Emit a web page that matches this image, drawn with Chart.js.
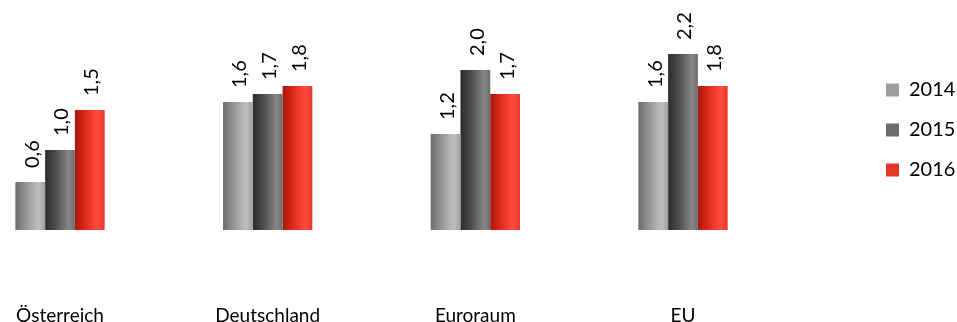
<!DOCTYPE html>
<html>
<head>
<meta charset="utf-8">
<script src="https://cdn.jsdelivr.net/npm/chart.js@4/dist/chart.umd.min.js"></script>
<style>
  html, body { margin: 0; padding: 0; background: #fff; }
  canvas { display: block; }
</style>
</head>
<body>
<canvas id="inflationChart" width="957" height="322"></canvas>
<script>
const categories = ['Österreich', 'Deutschland', 'Euroraum', 'EU']
const years = ['2014', '2015', '2016']
const values2014 = [0.6, 1.6, 1.2, 1.6]
const values2015 = [1.0, 1.7, 2.0, 2.2]
const values2016 = [1.5, 1.8, 1.7, 1.8]

const FONT = 'Lato, "Open Sans", sans-serif'

// flat colour for the legend, gradient stops for the bars (left -> right)
const styles = [
  { flat: '#a5a5a5', stops: ['#6c6c6c', '#8e8e8e', '#b4b4b4', '#bdbdbd', '#9e9e9e'] },
  { flat: '#6f6f6f', stops: ['#2c2c2c', '#464646', '#727272', '#878787', '#6c6c6c'] },
  { flat: '#ee3a2b', stops: ['#a8170e', '#d4271a', '#fb4232', '#ff4a3a', '#e3372a'] }
]

function barFill(style) {
  return function(context) {
    const el = context.element
    if (!el || el.x == null || !el.width) return style.flat
    const left = el.x - el.width / 2
    const g = context.chart.ctx.createLinearGradient(left, 0, left + el.width, 0)
    const pos = [0, 0.3, 0.65, 0.8, 1]
    style.stops.forEach((c, i) => g.addColorStop(pos[i], c))
    return g
  }
}

// rotated value labels above each bar, German decimal comma
const valueLabels = {
  id: 'valueLabels',
  afterDatasetsDraw(chart) {
    const ctx = chart.ctx
    ctx.save()
    ctx.font = '20px ' + FONT
    ctx.fillStyle = '#000'
    ctx.textAlign = 'left'
    ctx.textBaseline = 'middle'
    chart.data.datasets.forEach((ds, di) => {
      chart.getDatasetMeta(di).data.forEach((bar, i) => {
        const text = ds.data[i].toFixed(1).replace('.', ',')
        ctx.save()
        ctx.translate(bar.x + 2, bar.y - 14)
        ctx.rotate(-Math.PI / 2)
        ctx.fillText(text, 0, 0)
        ctx.restore()
      })
    })
    ctx.restore()
  }
}

const seriesData = [values2014, values2015, values2016]

const chart = new Chart(document.getElementById('inflationChart').getContext('2d'), {
  type: 'bar',
  data: {
    labels: categories,
    datasets: years.map((year, i) => ({
      label: year,
      data: seriesData[i],
      backgroundColor: barFill(styles[i]),
      borderWidth: 0,
      clip: false,
      categoryPercentage: 0.43,
      barPercentage: 1
    }))
  },
  options: {
    responsive: false,
    animation: false,
    layout: {
      padding: { left: 60, top: 30, right: 0, bottom: 0 }
    },
    scales: {
      x: {
        offset: false,
        grid: { display: false },
        border: { display: false },
        ticks: {
          color: '#000',
          padding: 66,
          maxRotation: 0,
          font: { family: FONT, size: 19 }
        },
        // labels sit far below the bars; keep the axis band and side padding fixed
        afterFit: (scale) => {
          scale.height = 92
          scale.paddingLeft = 0
          scale.paddingRight = 0
        }
      },
      y: {
        display: false,
        position: 'right',
        min: 0,
        max: 2.5,
        afterFit: (scale) => { scale.width = 183 }
      }
    },
    plugins: {
      legend: {
        position: 'right',
        fullSize: false,
        maxWidth: 91,
        labels: {
          boxWidth: 13,
          boxHeight: 13,
          padding: 20,
          color: '#000',
          font: { family: FONT, size: 20 }
        }
      },
      tooltip: { enabled: false }
    }
  },
  plugins: [valueLabels]
})

// second pass so the bar gradients can use the laid-out bar positions
chart.update()
</script>
</body>
</html>
